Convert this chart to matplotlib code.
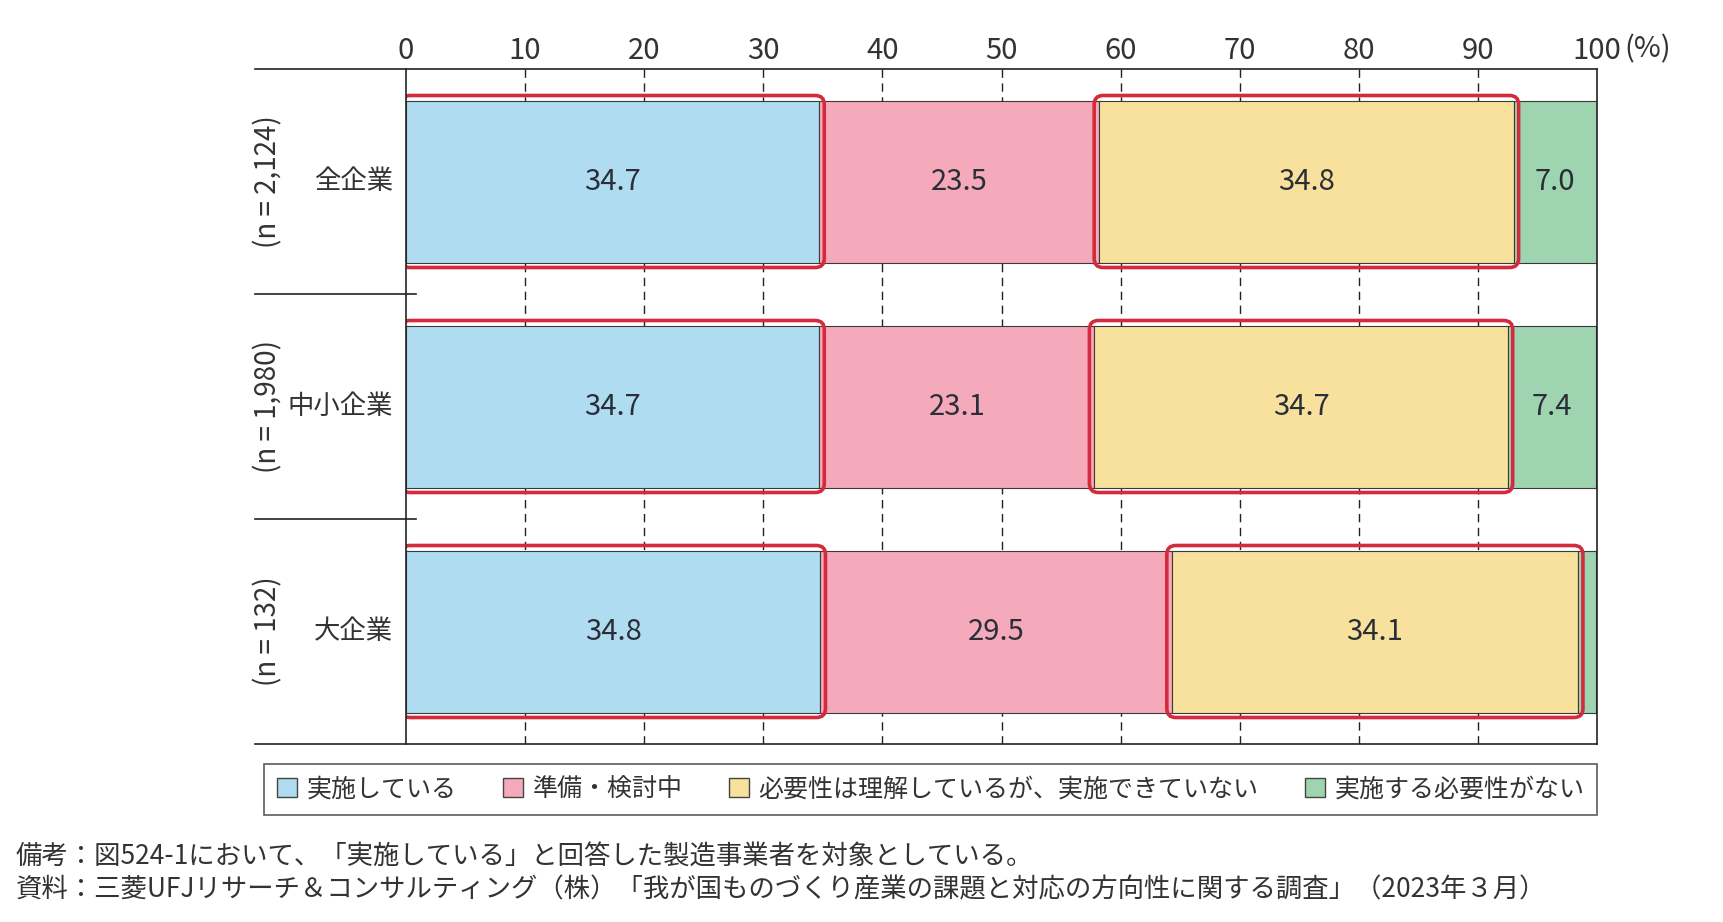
import matplotlib.pyplot as plt
from matplotlib.patches import FancyBboxPatch, Patch
import matplotlib.transforms as mtransforms
import numpy as np

plt.rcParams['font.family'] = ['Noto Sans CJK JP', 'DejaVu Sans']

# data
groups = ['全企業', '中小企業', '大企業']
samples = ['(n = 2,124)', '(n = 1,980)', '(n = 132)']
series = ['実施している', '準備・検討中',
          '必要性は理解しているが、実施できていない', '実施する必要性がない']
implemented = [34.7, 34.7, 34.8]
preparing = [23.5, 23.1, 29.5]
cannot_do = [34.8, 34.7, 34.1]
not_needed = [7.0, 7.4, 1.5]
ticks = [0, 10, 20, 30, 40, 50, 60, 70, 80, 90, 100]
note = '備考：図524-1において、「実施している」と回答した製造事業者を対象としている。'
source = '資料：三菱UFJリサーチ＆コンサルティング（株）「我が国ものづくり産業の課題と対応の方向性に関する調査」（2023年３月）'

colors = ['#b0dcf2', '#f5aabb', '#f7e19c', '#9fd4b1']
highlight = [0, 2]          # series framed in red
text_col = '#333333'

values = np.array([implemented, preparing, cannot_do, not_needed])

fig_w, fig_h = 1723, 922
fig = plt.figure(figsize=(fig_w / 100, fig_h / 100), dpi=100)
ax_l, ax_b, ax_w, ax_h = 406 / fig_w, 1 - 744 / fig_h, 1191 / fig_w, 675 / fig_h
ax = fig.add_axes([ax_l, ax_b, ax_w, ax_h])

ax.set_xlim(0, 100)
ax.set_ylim(2.5, -0.5)
bar_h = 0.72
y = np.arange(len(groups))

# grid behind bars
for t in ticks[1:-1]:
    ax.axvline(t, color='#222222', lw=1.0, ls=(0, (6, 4)), zorder=1)

left = np.zeros(len(groups))
for k in range(len(series)):
    ax.barh(y, values[k], left=left, height=bar_h, color=colors[k],
            edgecolor='#3a3a3a', linewidth=0.8, zorder=2, label=series[k])
    for i in range(len(groups)):
        v = values[k][i]
        if v >= 3:
            ax.text(left[i] + v / 2, y[i], f'{v:.1f}', ha='center', va='center',
                    fontsize=21, color='#2a2e38', zorder=4)
    left = left + values[k]

# red rounded frames
px_x = 100 / (ax_w * fig_w)
px_y = 3 / (ax_h * fig_h)
pad = 5
radius = 9
starts = np.vstack([np.zeros(len(groups)), np.cumsum(values, axis=0)[:-1]])
for k in highlight:
    for i in range(len(groups)):
        x0 = starts[k][i] - pad * px_x
        w = values[k][i] + 2 * pad * px_x
        y0 = y[i] - bar_h / 2 - pad * px_y
        h = bar_h + 2 * pad * px_y
        box = FancyBboxPatch((x0, y0), w, h,
                             boxstyle=f'round,pad=0,rounding_size={radius * px_x}',
                             mutation_aspect=px_y / px_x,
                             facecolor='none', edgecolor='#d42a3c', lw=2.6, zorder=3)
        ax.add_patch(box)

# frame
for s in ['top', 'bottom']:
    ax.spines[s].set_visible(False)
for s in ['left', 'right']:
    ax.spines[s].set_color('#222222')
    ax.spines[s].set_linewidth(1.2)
    ax.spines[s].set_zorder(5)
ext = -151 / 1191
ax.plot([ext, 1], [1, 1], transform=ax.transAxes, color='#222222', lw=1.2, clip_on=False, zorder=5)
ax.plot([ext, 1], [0, 0], transform=ax.transAxes, color='#222222', lw=1.2, clip_on=False, zorder=5)
blend = mtransforms.blended_transform_factory(ax.transAxes, ax.transData)
for yy in y[:-1] + 0.5:
    ax.plot([ext, 0.008], [yy, yy], transform=blend, color='#222222', lw=1.2, clip_on=False)

ax.xaxis.tick_top()
ax.set_xticks(ticks)
ax.set_xticklabels([str(t) for t in ticks])
ax.tick_params(axis='x', length=0, pad=2, labelsize=21, labelcolor=text_col)
ax.set_yticks([])
ax.text(1.023, 1 + 20 / 675, '(%)', transform=ax.transAxes, ha='left', va='center',
        fontsize=21, color=text_col)

for i in range(len(groups)):
    ax.text(-0.011, y[i], groups[i], transform=blend, ha='right', va='center',
            fontsize=19, color=text_col)
    ax.text(-138 / 1191, y[i], samples[i], transform=blend, ha='center', va='center',
            rotation=90, fontsize=20, color=text_col)

handles = [Patch(facecolor=c, edgecolor='#444444', lw=1.0) for c in colors]
leg = fig.legend(handles, series, loc='center', ncol=4, mode='expand',
                 bbox_to_anchor=(264 / fig_w, 1 - 821 / fig_h, 1333 / fig_w, 63 / fig_h),
                 fontsize=18, frameon=True, fancybox=False, handlelength=0.8,
                 handleheight=0.8, handletextpad=0.4, borderpad=0.5, borderaxespad=0)
leg.get_frame().set_edgecolor('#333333')
leg.get_frame().set_linewidth(1.2)
for t in leg.get_texts():
    t.set_color(text_col)

fig.text(16 / fig_w, 1 - 856 / fig_h, note, ha='left', va='center', fontsize=19, color=text_col)
fig.text(16 / fig_w, 1 - 890 / fig_h, source, ha='left', va='center', fontsize=19, color=text_col)

fig.savefig('out.png', dpi=100)
